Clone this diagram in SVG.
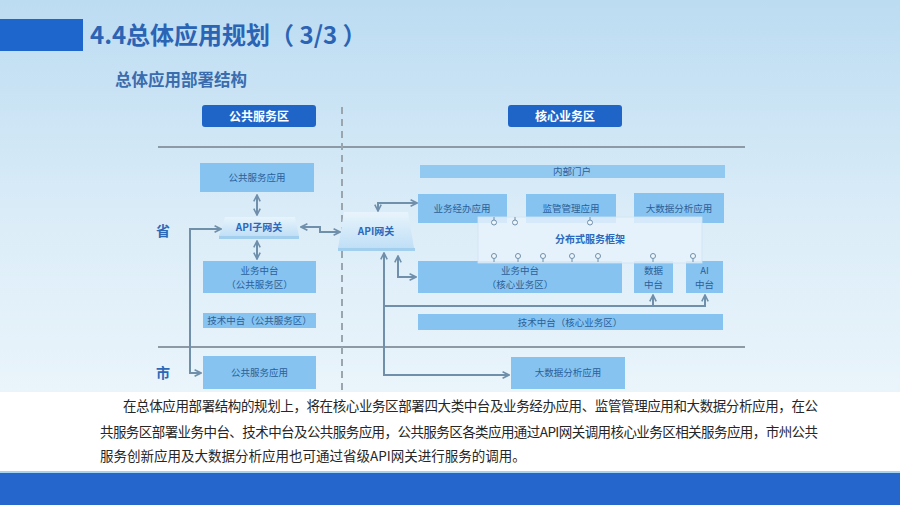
<svg xmlns="http://www.w3.org/2000/svg" width="900" height="505" viewBox="0 0 900 505">
<defs>
<linearGradient id="bg" x1="0" y1="0" x2="0" y2="1">
<stop offset="0" stop-color="#bcdcf2"/>
<stop offset="0.45" stop-color="#dcedf8"/>
<stop offset="1" stop-color="#f3f9fd"/>
</linearGradient>
<linearGradient id="gwg" x1="0" y1="0" x2="0" y2="1">
<stop offset="0" stop-color="#e8f4fc"/>
<stop offset="1" stop-color="#c0dff6"/>
</linearGradient>
<marker id="ah" viewBox="0 0 10 10" refX="9" refY="5" markerWidth="8" markerHeight="8" markerUnits="userSpaceOnUse" orient="auto-start-reverse">
<path d="M1,1 L9,5 L1,9" fill="none" stroke="#6f8fab" stroke-width="2"/>
</marker>
<style>
.t{font-family:"Noto Sans CJK SC","Noto Sans",sans-serif}
.box{fill:#86c3f0}
.lbl{font-family:"Noto Sans CJK SC","Noto Sans",sans-serif;font-size:9.5px;fill:#2b5f99;text-anchor:middle}
.zone{fill:#1f64c7}
.zt{font-family:"Noto Sans CJK SC","Noto Sans",sans-serif;font-size:12px;font-weight:bold;fill:#ffffff;text-anchor:middle}
.gw{fill:url(#gwg)}
.gws{fill:#a3cfef}
.gwt{font-family:"Noto Sans CJK SC","Noto Sans",sans-serif;font-size:10px;font-weight:bold;fill:#2a69bd;text-anchor:middle}
.conn path{fill:none;stroke:#6f8fab;stroke-width:2}
.sep{stroke:#8d9aa5;stroke-width:2}
.pin{fill:#eef6fc;stroke:#6f8fab;stroke-width:1}
.stem{stroke:#6f8fab;stroke-width:1}
.para{font-family:"Noto Sans CJK SC","Noto Sans",sans-serif;font-size:13.5px;fill:#262626}
.lvl{font-family:"Noto Sans CJK SC","Noto Sans",sans-serif;font-size:14px;font-weight:bold;fill:#2c68b8;text-anchor:middle}
</style>
</defs>

<rect x="0" y="0" width="900" height="505" fill="url(#bg)"/>
<rect x="0" y="392" width="900" height="80" fill="#ffffff"/>

<!-- header -->
<rect x="0" y="19" width="83" height="32" fill="#1f66cc"/>
<text class="t" x="90" y="44" font-size="24" font-weight="bold" fill="#2b64b5">4.4总体应用规划（ 3/3 ）</text>
<text class="t" x="115" y="86" font-size="16.5" font-weight="bold" fill="#3a6cae">总体应用部署结构</text>

<!-- zone headers -->
<g id="zone-public"><rect class="zone" x="202" y="105" width="114" height="22" rx="3"/><text class="zt" x="259" y="120.5">公共服务区</text></g>
<g id="zone-core"><rect class="zone" x="508" y="105" width="114" height="22" rx="3"/><text class="zt" x="565" y="120.5">核心业务区</text></g>

<!-- separators -->
<line class="sep" x1="158" y1="147" x2="745" y2="147"/>
<line class="sep" x1="158" y1="347" x2="745" y2="347"/>
<line x1="342" y1="107" x2="342" y2="392" stroke="#9aa5ae" stroke-width="2" stroke-dasharray="7,5"/>

<text class="lvl" x="163" y="236">省</text>
<text class="lvl" x="163" y="378">市</text>

<!-- left nodes -->
<g id="pub-app"><rect class="box" x="200" y="163" width="114" height="29"/><text class="lbl" x="257" y="181">公共服务应用</text></g>
<g id="api-sub"><polygon class="gw" points="225,217 295,217 299,236 219,236"/><rect class="gws" x="219" y="236" width="80" height="3"/><text class="gwt" x="259" y="231">API子网关</text></g>
<g id="biz-pub"><rect class="box" x="203" y="261" width="113" height="32"/><text class="lbl" x="259.5" y="274">业务中台</text><text class="lbl" x="259.5" y="288">（公共服务区）</text></g>
<g id="tech-pub"><rect class="box" x="203" y="313" width="113" height="15"/><text class="lbl" x="259.5" y="324">技术中台（公共服务区）</text></g>
<g id="city-app"><rect class="box" x="203" y="356" width="113" height="33"/><text class="lbl" x="259.5" y="376">公共服务应用</text></g>

<!-- API gateway -->
<g id="api-gw"><polygon class="gw" points="344,212 408,212 414,248 338,248"/><rect class="gws" x="338" y="248" width="77" height="3"/><text class="gwt" x="376" y="235">API网关</text></g>

<!-- right nodes -->
<g id="portal"><rect class="box" x="420" y="165" width="305" height="13" fill-opacity="0.85"/><text class="lbl" x="572" y="175">内部门户</text></g>
<g id="biz-app"><rect class="box" x="418" y="194" width="89" height="29"/><text class="lbl" x="462" y="212">业务经办应用</text></g>
<g id="sup-app"><rect class="box" x="526" y="194" width="90" height="29"/><text class="lbl" x="571" y="212">监管管理应用</text></g>
<g id="bd-app"><rect class="box" x="634" y="193" width="90" height="30"/><text class="lbl" x="679" y="212">大数据分析应用</text></g>
<g id="biz-core"><rect class="box" x="418" y="261" width="204" height="32"/><text class="lbl" x="520" y="274">业务中台</text><text class="lbl" x="520" y="288">（核心业务区）</text></g>
<g id="data-mid"><rect class="box" x="634" y="261" width="39" height="32"/><text class="lbl" x="653.5" y="274">数据</text><text class="lbl" x="653.5" y="288">中台</text></g>
<g id="ai-mid"><rect class="box" x="686" y="261" width="37" height="32"/><text class="lbl" x="704.5" y="274">AI</text><text class="lbl" x="704.5" y="288">中台</text></g>
<g id="tech-core"><rect class="box" x="418" y="314" width="305" height="16"/><text class="lbl" x="570" y="325.5">技术中台（核心业务区）</text></g>
<g id="city-bd"><rect class="box" x="511" y="357" width="114" height="32"/><text class="lbl" x="568" y="376">大数据分析应用</text></g>

<!-- distributed service framework -->
<g id="framework">
<rect x="478" y="217" width="224" height="46" fill="#e6f2fb" fill-opacity="0.82" stroke="#cfe3f3" stroke-width="0.8"/>
<text class="gwt" x="590" y="243">分布式服务框架</text>
<g>
<line class="stem" x1="494" y1="217" x2="494" y2="220"/><circle class="pin" cx="494" cy="222.5" r="2.5"/>
<line class="stem" x1="515" y1="217" x2="515" y2="220"/><circle class="pin" cx="515" cy="222.5" r="2.5"/>
<line class="stem" x1="590" y1="217" x2="590" y2="220"/><circle class="pin" cx="590" cy="222.5" r="2.5"/>
</g>
<g>
<line class="stem" x1="494" y1="258.5" x2="494" y2="262"/><circle class="pin" cx="494" cy="256" r="2.5"/>
<line class="stem" x1="518" y1="258.5" x2="518" y2="262"/><circle class="pin" cx="518" cy="256" r="2.5"/>
<line class="stem" x1="543" y1="258.5" x2="543" y2="262"/><circle class="pin" cx="543" cy="256" r="2.5"/>
<line class="stem" x1="572" y1="258.5" x2="572" y2="262"/><circle class="pin" cx="572" cy="256" r="2.5"/>
<line class="stem" x1="598" y1="258.5" x2="598" y2="262"/><circle class="pin" cx="598" cy="256" r="2.5"/>
<line class="stem" x1="653" y1="258.5" x2="653" y2="262"/><circle class="pin" cx="653" cy="256" r="2.5"/>
<line class="stem" x1="693" y1="258.5" x2="693" y2="262"/><circle class="pin" cx="693" cy="256" r="2.5"/>
</g>
</g>

<!-- connectors -->
<g id="connectors" class="conn">
<path d="M257,195 V215" marker-start="url(#ah)" marker-end="url(#ah)"/>
<path d="M257,241 V259" marker-start="url(#ah)" marker-end="url(#ah)"/>
<path d="M221,229 H190 V373 H201" marker-start="url(#ah)" marker-end="url(#ah)"/>
<path d="M301,227 H320 V232 H340" marker-start="url(#ah)" marker-end="url(#ah)"/>
<path d="M378,211 V203 H417" marker-start="url(#ah)" marker-end="url(#ah)"/>
<path d="M509,375 H384 V253" marker-start="url(#ah)" marker-end="url(#ah)"/>
<path d="M398,256 V277 H416" marker-start="url(#ah)" marker-end="url(#ah)"/>
<path d="M384,306 H705 V295" marker-end="url(#ah)"/>
<path d="M653,306 V295" marker-end="url(#ah)"/>
</g>

<!-- paragraph -->
<text class="para" x="123" y="411" textLength="695" lengthAdjust="spacing">在总体应用部署结构的规划上，将在核心业务区部署四大类中台及业务经办应用、监管管理应用和大数据分析应用，在公</text>
<text class="para" x="100" y="437" textLength="718" lengthAdjust="spacing">共服务区部署业务中台、技术中台及公共服务应用，公共服务区各类应用通过API网关调用核心业务区相关服务应用，市州公共</text>
<text class="para" x="100" y="461">服务创新应用及大数据分析应用也可通过省级API网关进行服务的调用。</text>

<!-- bottom bar -->
<rect x="0" y="471" width="900" height="2" fill="#a6d3f2"/>
<rect x="0" y="473" width="900" height="32" fill="#2466cc"/>
</svg>
